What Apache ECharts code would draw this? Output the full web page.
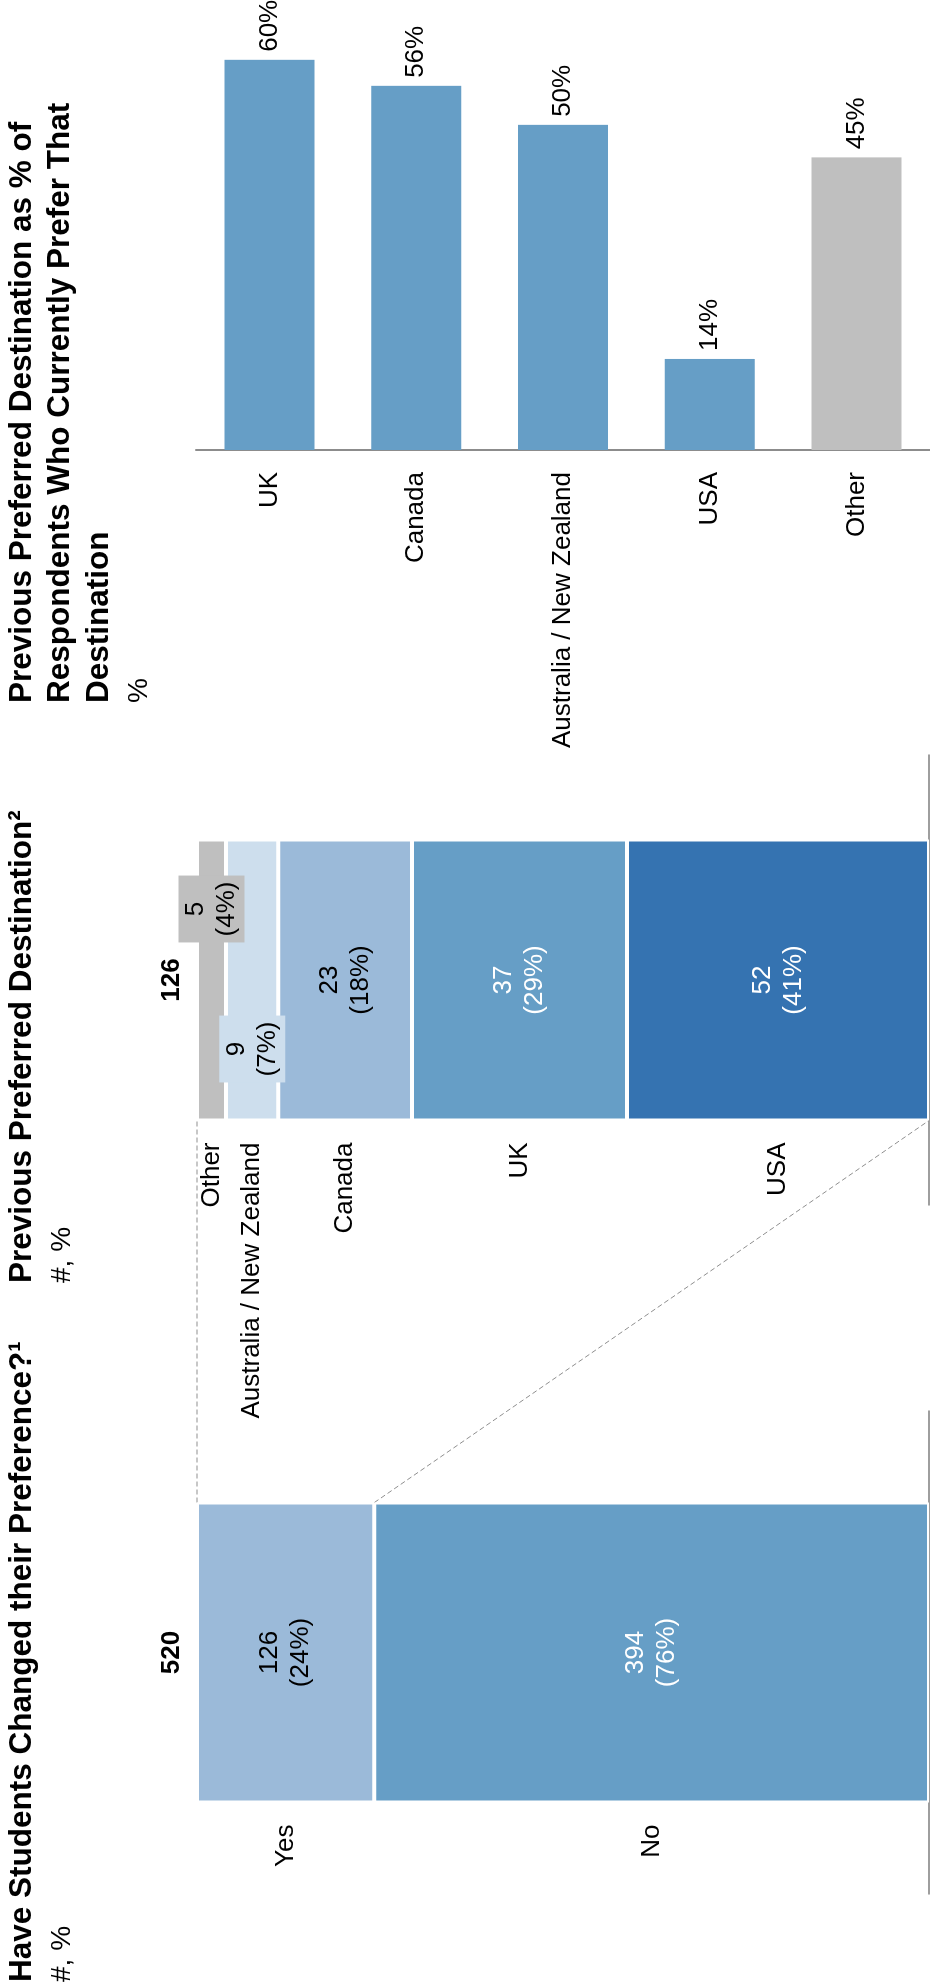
<!DOCTYPE html>
<html><head><meta charset="utf-8">
<script src="https://cdn.jsdelivr.net/npm/echarts@6/dist/echarts.min.js"></script>
<style>
html,body{margin:0;padding:0;background:#fff;overflow:hidden;}
#wrap{position:absolute;left:0;top:0;width:930px;height:1984px;overflow:hidden;background:#fff;}
#chart{position:absolute;left:0;top:0;width:1984px;height:930px;transform-origin:0 0;transform:translate(0,1984px) rotate(-90deg);}
</style></head><body><div id="wrap"><div id="chart"></div></div>
<script>
// ---- data ----
const changeCategories = ['Yes', 'No'];
const changeCounts = [126, 394];
const prevCategories = ['Other', 'Australia / New Zealand', 'Canada', 'UK', 'USA'];
const prevCounts = [5, 9, 23, 37, 52];
const shareCategories = ['UK', 'Canada', 'Australia / New Zealand', 'USA', 'Other'];
const shareValues = [60, 56, 50, 14, 45];
const titleTexts = [
  'Have Students Changed their Preference?\u00b9',
  'Previous Preferred Destination\u00b2',
  'Previous Preferred Destination as % of\nRespondents Who Currently Prefer That\nDestination'
];
const unitTexts = ['#, %', '#, %', '%'];

// ---- styles ----
const FONT = '"Liberation Sans", Arial, Helvetica, sans-serif';
const FS = 26;
const TFS = 31.5;
const BLUE = '#669ec6', LIGHT = '#9bbad9', PALE = '#cddeed', DARK = '#3573b1', GRAY = '#bfbfbf';
const changeFill = { Yes: LIGHT, No: BLUE };
const changeInk = { No: '#fff' };
const prevFill = { Other: GRAY, 'Australia / New Zealand': PALE, Canada: LIGHT, UK: BLUE, USA: DARK };
const prevInk = { UK: '#fff', USA: '#fff' };
const prevCallouts = { Other: [71, 0], 'Australia / New Zealand': [-69, 0] };
const BW0 = 300, BW1 = 281;

function sum(a) { return a.reduce((s, v) => s + v, 0); }
const changeTotal = sum(changeCounts);
const prevTotal = sum(prevCounts);

function columnSeries(g, cats, counts, barWidth, fills, inks, callouts) {
  const total = sum(counts);
  const out = [];
  for (let i = cats.length - 1; i >= 0; i--) {
    const name = cats[i], v = counts[i];
    const pct = Math.round(v / total * 100);
    const c = callouts[name];
    const label = {
      show: true, position: 'inside', formatter: v + '\n(' + pct + '%)',
      fontFamily: FONT, fontSize: FS, lineHeight: 31, color: inks[name] || '#000'
    };
    if (c) { label.offset = c; label.backgroundColor = fills[name]; label.padding = [2, 6]; }
    out.push({
      type: 'bar', name: name, xAxisIndex: g, yAxisIndex: g, stack: 'seg' + g,
      barWidth: barWidth, barGap: '-100%', data: [v], silent: true, z: 3,
      itemStyle: { color: fills[name], borderColor: '#fff', borderWidth: 2 },
      label: label
    });
  }
  for (let i = cats.length - 1; i >= 0; i--) {
    out.push({
      type: 'bar', xAxisIndex: g, yAxisIndex: g, stack: 'name' + g,
      barWidth: barWidth, barGap: '-100%', data: [counts[i]], silent: true, z: 3,
      itemStyle: { color: 'rgba(0,0,0,0)' },
      label: { show: true, position: 'left', distance: 18, formatter: cats[i],
        fontFamily: FONT, fontSize: FS, color: '#000', backgroundColor: '#fff', padding: [0, 4] }
    });
  }
  out.push({
    type: 'bar', xAxisIndex: g, yAxisIndex: g, barWidth: barWidth, barGap: '-100%',
    data: [total], silent: true, z: 3, itemStyle: { color: 'rgba(0,0,0,0)' },
    label: { show: true, position: 'top', distance: 12, formatter: String(total),
      fontFamily: FONT, fontSize: FS, fontWeight: 'bold', color: '#000' }
  });
  return out;
}

const titleLefts = [2, 701, 1281];
const titles = [];
titleTexts.forEach((t, i) => {
  const lines = t.split('\n').length;
  titles.push({ text: t, left: titleLefts[i], top: 3, padding: 0,
    textStyle: { fontFamily: FONT, fontSize: TFS, fontWeight: 'bold', color: '#000', lineHeight: 38.5 } });
  titles.push({ text: unitTexts[i], left: titleLefts[i], top: 3 + lines * 38.5 + 2, padding: 0,
    textStyle: { fontFamily: FONT, fontSize: 28, fontWeight: 'normal', color: '#000', lineHeight: 38.5 } });
});

const axisLineGray = { lineStyle: { color: '#7f7f7f', width: 1.5 } };

const option = {
  backgroundColor: '#fff',
  animation: false,
  title: titles,
  grid: [
    { left: 90, top: 197, width: 483, height: 732, outerBoundsMode: 'none' },
    { left: 779, top: 197, width: 450, height: 732, outerBoundsMode: 'none' },
    { left: 1534, top: 196, width: 450, height: 734, outerBoundsMode: 'none' }
  ],
  xAxis: [
    { gridIndex: 0, type: 'category', data: ['change'], axisLine: axisLineGray, axisTick: { show: false }, axisLabel: { show: false }, splitLine: { show: false } },
    { gridIndex: 1, type: 'category', data: ['previous'], axisLine: axisLineGray, axisTick: { show: false }, axisLabel: { show: false }, splitLine: { show: false } },
    { gridIndex: 2, type: 'value', min: 0, max: 69.2, show: false }
  ],
  yAxis: [
    { gridIndex: 0, type: 'value', min: 0, max: changeTotal, show: false },
    { gridIndex: 1, type: 'value', min: 0, max: prevTotal, show: false },
    { gridIndex: 2, type: 'category', data: shareCategories, inverse: true,
      axisLine: { lineStyle: { color: '#8c8c8c', width: 2 } }, axisTick: { show: false },
      axisLabel: { fontFamily: FONT, fontSize: FS, color: '#000', margin: 22 }, splitLine: { show: false } }
  ],
  series: [].concat(
    columnSeries(0, changeCategories, changeCounts, BW0, changeFill, changeInk, {}),
    columnSeries(1, prevCategories, prevCounts, BW1, prevFill, prevInk, prevCallouts),
    [{
      type: 'bar', xAxisIndex: 2, yAxisIndex: 2, barWidth: 90, silent: true,
      data: shareValues.map((v, i) => ({ value: v, itemStyle: { color: shareCategories[i] === 'Other' ? GRAY : BLUE } })),
      label: { show: true, position: 'right', distance: 8, formatter: '{c}%', fontFamily: FONT, fontSize: FS, color: '#000' }
    }]
  )
};

const chart = echarts.init(document.getElementById('chart'), null, { renderer: 'canvas', width: 1984, height: 930 });
chart.setOption(option);

// connector lines between the "Yes" segment and the breakdown column
const yesTop = chart.convertToPixel({ gridIndex: 0 }, [0, changeTotal]);
const yesBottom = chart.convertToPixel({ gridIndex: 0 }, [0, changeTotal - changeCounts[0]]);
const midTop = chart.convertToPixel({ gridIndex: 1 }, [0, prevTotal]);
const midBottom = chart.convertToPixel({ gridIndex: 1 }, [0, 0]);
const yesRight = yesTop[0] + BW0 / 2;
const midLeft = midTop[0] - BW1 / 2;
const dash = { stroke: '#8f8f8f', lineWidth: 1, lineDash: [5, 3] };
chart.setOption({
  graphic: [
    { type: 'line', z: 1, silent: true, shape: { x1: yesRight, y1: yesTop[1], x2: midLeft, y2: midTop[1] }, style: dash },
    { type: 'line', z: 1, silent: true, shape: { x1: yesRight, y1: yesBottom[1], x2: midLeft, y2: midBottom[1] }, style: dash }
  ]
});
</script></body></html>
